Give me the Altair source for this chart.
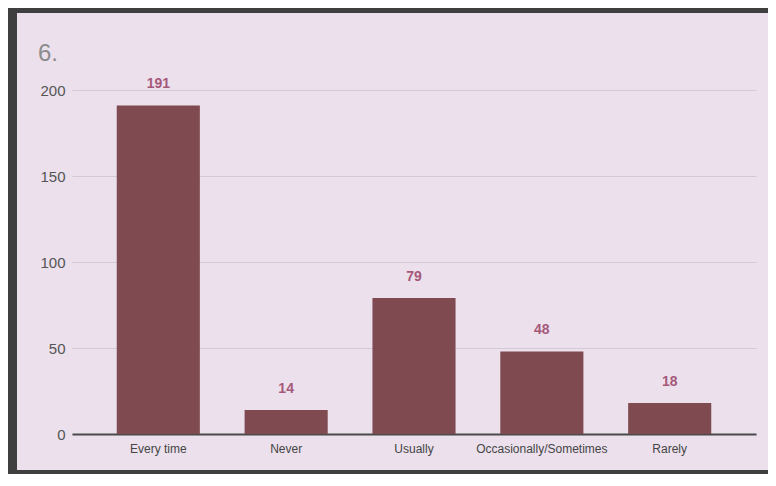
import altair as alt
import pandas as pd

categories = ["Every time", "Never", "Usually", "Occasionally/Sometimes", "Rarely"]
values = [191, 14, 79, 48, 18]
y_ticks = [0, 50, 100, 150, 200]
title_text = "6."

df = pd.DataFrame({"cat": categories, "val": values})

W, H = 684, 344
PL, PT, PR, PB = 64, 82, 12, 40
TOTAL_W = PL + W + PR
TOTAL_H = PT + H + PB

base = alt.Chart(df)

x_enc = alt.X(
    "cat:N",
    sort=categories,
    scale=alt.Scale(paddingInner=0.35, paddingOuter=0.35),
    axis=alt.Axis(
        title=None, labelAngle=0, ticks=False, domain=True,
        domainColor="#4a4a4a", domainWidth=2,
        labelFontSize=12, labelColor="#454545", labelPadding=9,
        labelFont="Liberation Sans",
    ),
)
y_enc = alt.Y(
    "val:Q",
    scale=alt.Scale(domain=[0, 200]),
    axis=alt.Axis(
        title=None, values=y_ticks, grid=True, gridColor="#d3cad5",
        domain=False, ticks=False, labelPadding=7, labelFontSize=15,
        labelColor="#555555", labelFont="Liberation Sans",
    ),
)

bars = base.mark_bar(color="#7f4a50").encode(x=x_enc, y=y_enc)

labels = base.mark_text(
    dy=-17, baseline="alphabetic", fontSize=14, fontWeight="bold",
    color="#a6587a", font="Liberation Sans",
).encode(x=alt.X("cat:N", sort=categories), y="val:Q", text="val:Q")

deco = alt.Chart(pd.DataFrame({"t": [title_text]}))
title = deco.mark_text(
    align="left", baseline="alphabetic", fontSize=24, color="#8c8c8c",
    font="Liberation Sans",
).encode(text="t:N", x=alt.value(-34), y=alt.value(-29))

left_border = deco.mark_rule(color="#3f3f3f", strokeWidth=9).encode(
    x=alt.value(-PL + 4.5), y=alt.value(-PT), y2=alt.value(TOTAL_H - PT)
)
top_border = deco.mark_rule(color="#3f3f3f", strokeWidth=5).encode(
    x=alt.value(-PL), x2=alt.value(TOTAL_W - PL), y=alt.value(-PT + 2.5)
)
bottom_border = deco.mark_rule(color="#3f3f3f", strokeWidth=4).encode(
    x=alt.value(-PL), x2=alt.value(TOTAL_W - PL), y=alt.value(TOTAL_H - PT - 2)
)

chart = (
    alt.layer(bars, labels, title, left_border, top_border, bottom_border)
    .properties(
        width=W, height=H,
        autosize=alt.AutoSizeParams(type="none"),
        padding={"left": PL, "top": PT, "right": PR, "bottom": PB},
        background="#ebe0ec",
    )
    .configure_view(stroke=None)
)

chart.save("out.html", embed_options={"renderer": "svg", "actions": False})
